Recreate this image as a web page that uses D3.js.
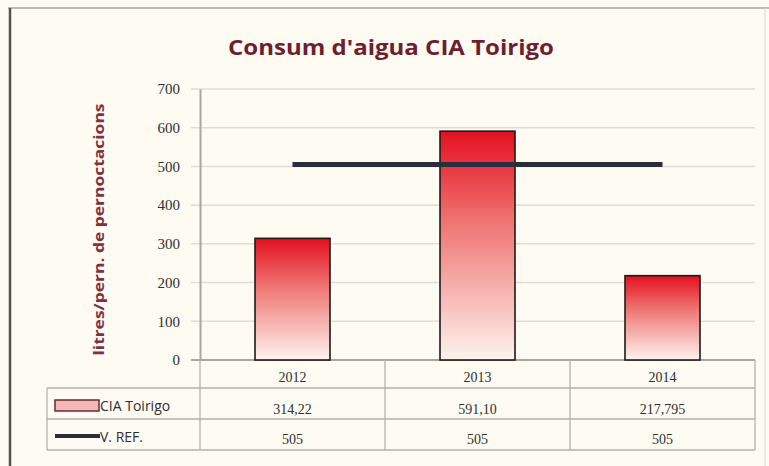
<!DOCTYPE html>
<html>
<head>
<meta charset="utf-8">
<script src="https://cdn.jsdelivr.net/npm/d3@7"></script>
<style>
  body { margin: 0; background: #f7f4ec; }
  svg { display: block; font-family: "Open Sans", "Noto Sans", sans-serif; }
</style>
</head>
<body>
<div id="chart"></div>
<script>
// chart data
const years = ["2012", "2013", "2014"];
const consum = [314.22, 591.10, 217.795];
const consumLabels = ["314,22", "591,10", "217,795"];
const vref = [505, 505, 505];
const vrefLabels = ["505", "505", "505"];
const yTicks = [0, 100, 200, 300, 400, 500, 600, 700];

const W = 769, H = 466;
const margin = { top: 89, right: 14, bottom: 106, left: 200 };

const svg = d3.select("#chart").append("svg")
    .attr("width", W)
    .attr("height", H);

// paper + frame
svg.append("rect").attr("width", W).attr("height", H).attr("fill", "#fdfbf2");
svg.append("line").attr("x1", 8).attr("x2", W).attr("y1", 8).attr("y2", 8)
    .attr("stroke", "#bdbab2").attr("stroke-width", 2);
svg.append("line").attr("x1", 10).attr("x2", 10).attr("y1", 8).attr("y2", H)
    .attr("stroke", "#55534f").attr("stroke-width", 2.5);
svg.append("line").attr("x1", W - 4).attr("x2", W - 4).attr("y1", 8).attr("y2", H)
    .attr("stroke", "#dedbd2").attr("stroke-width", 1.2);

// gradient for bars
const defs = svg.append("defs");
const grad = defs.append("linearGradient")
    .attr("id", "barGrad")
    .attr("x1", 0).attr("x2", 0).attr("y1", 0).attr("y2", 1);
grad.append("stop").attr("offset", "0%").attr("stop-color", "#e3101f");
grad.append("stop").attr("offset", "40%").attr("stop-color", "#ef7573");
grad.append("stop").attr("offset", "100%").attr("stop-color", "#fdf3ee");

const innerW = W - margin.left - margin.right;
const innerH = H - margin.top - margin.bottom;
const x0 = margin.left, y0 = margin.top;

const x = d3.scaleBand().domain(years).range([x0, x0 + innerW]).paddingInner(0).paddingOuter(0);
const y = d3.scaleLinear().domain([0, 700]).range([y0 + innerH, y0]);

// title
svg.append("text")
    .attr("x", 391).attr("y", 55)
    .attr("text-anchor", "middle")
    .attr("fill", "#6e1e2e")
    .attr("font-size", 22)
    .attr("font-weight", "bold")
    .attr("textLength", 326)
    .attr("lengthAdjust", "spacingAndGlyphs")
    .text("Consum d'aigua CIA Toirigo");

// gridlines
svg.append("g").selectAll("line")
    .data(yTicks)
    .enter()
    .append("line")
    .attr("x1", x0 - 9).attr("x2", x0 + innerW)
    .attr("y1", d => y(d)).attr("y2", d => y(d))
    .attr("stroke", d => d === 0 ? "#a9a6a0" : "#e2ded5")
    .attr("stroke-width", d => d === 0 ? 2 : 1.5);

// y axis
const yAxis = svg.append("g")
    .attr("transform", "translate(" + x0 + ",0)")
    .call(d3.axisLeft(y).tickValues(yTicks).tickSize(0).tickPadding(20));
yAxis.select(".domain").attr("stroke", "#a9a6a0").attr("stroke-width", 2);
yAxis.selectAll("text")
    .attr("fill", "#2f2f2f")
    .attr("font-size", 15)
    .attr("font-family", "'Liberation Serif', serif");

// y title
svg.append("text")
    .attr("transform", "translate(104," + (y0 + innerH / 2 + 5) + ") rotate(-90)")
    .attr("text-anchor", "middle")
    .attr("fill", "#80303f")
    .attr("font-size", 14)
    .attr("font-weight", "bold")
    .attr("textLength", 252)
    .attr("lengthAdjust", "spacingAndGlyphs")
    .text("litres/pern. de pernoctacions");

// bars
const barW = 75;
svg.append("g").selectAll("rect")
    .data(consum)
    .enter()
    .append("rect")
    .attr("x", (d, i) => x(years[i]) + x.bandwidth() / 2 - barW / 2)
    .attr("y", d => y(d))
    .attr("width", barW)
    .attr("height", d => y(0) - y(d))
    .attr("fill", "url(#barGrad)")
    .attr("stroke", "#1e1a1a")
    .attr("stroke-width", 1.6);

// reference line
const line = d3.line()
    .x((d, i) => x(years[i]) + x.bandwidth() / 2)
    .y(d => y(d));
svg.append("path")
    .datum(vref)
    .attr("d", line)
    .attr("fill", "none")
    .attr("stroke", "#2a2d3c")
    .attr("stroke-width", 5);

// data table
const tblTop = y(0), rowH = 31;
const tblLeft = 47;
const tbl = svg.append("g").attr("stroke", "#b5b1a8").attr("stroke-width", 1.3);
x.domain().concat(["end"]).forEach((k, i) => {
    const xx = i < years.length ? x(k) : x0 + innerW;
    tbl.append("line").attr("x1", xx).attr("x2", xx)
        .attr("y1", tblTop).attr("y2", tblTop + rowH * 3 - 3);
});
[1, 2, 3].forEach(r => {
    tbl.append("line").attr("x1", tblLeft).attr("x2", x0 + innerW)
        .attr("y1", tblTop + rowH * r - 3).attr("y2", tblTop + rowH * r - 3);
});
tbl.append("line").attr("x1", tblLeft).attr("x2", tblLeft)
    .attr("y1", tblTop + rowH - 3).attr("y2", tblTop + rowH * 3 - 3);

const cellText = (txt, cx, cy) => svg.append("text")
    .attr("x", cx).attr("y", cy)
    .attr("text-anchor", "middle")
    .attr("fill", "#2f2f2f")
    .attr("font-size", 14)
    .attr("font-family", "'Liberation Serif', serif")
    .text(txt);

years.forEach((yr, i) => {
    const cx = x(yr) + x.bandwidth() / 2;
    cellText(yr, cx, tblTop + 22);
    cellText(consumLabels[i], cx, tblTop + rowH + 23);
    cellText(vrefLabels[i], cx, tblTop + rowH * 2 + 22);
});

// legend keys in table
svg.append("rect")
    .attr("x", 55).attr("y", tblTop + rowH + 9)
    .attr("width", 44).attr("height", 11)
    .attr("fill", "#f4b9b6").attr("stroke", "#6a2a30").attr("stroke-width", 1.5);
svg.append("text")
    .attr("x", 100).attr("y", tblTop + rowH + 20)
    .attr("fill", "#2f2f2f").attr("font-size", 14)
    .text("CIA Toirigo");
svg.append("line")
    .attr("x1", 55).attr("x2", 100)
    .attr("y1", tblTop + rowH * 2 + 14).attr("y2", tblTop + rowH * 2 + 14)
    .attr("stroke", "#2a2d3c").attr("stroke-width", 4);
svg.append("text")
    .attr("x", 100).attr("y", tblTop + rowH * 2 + 20)
    .attr("fill", "#2f2f2f").attr("font-size", 14)
    .text("V. REF.");
</script>
</body>
</html>
